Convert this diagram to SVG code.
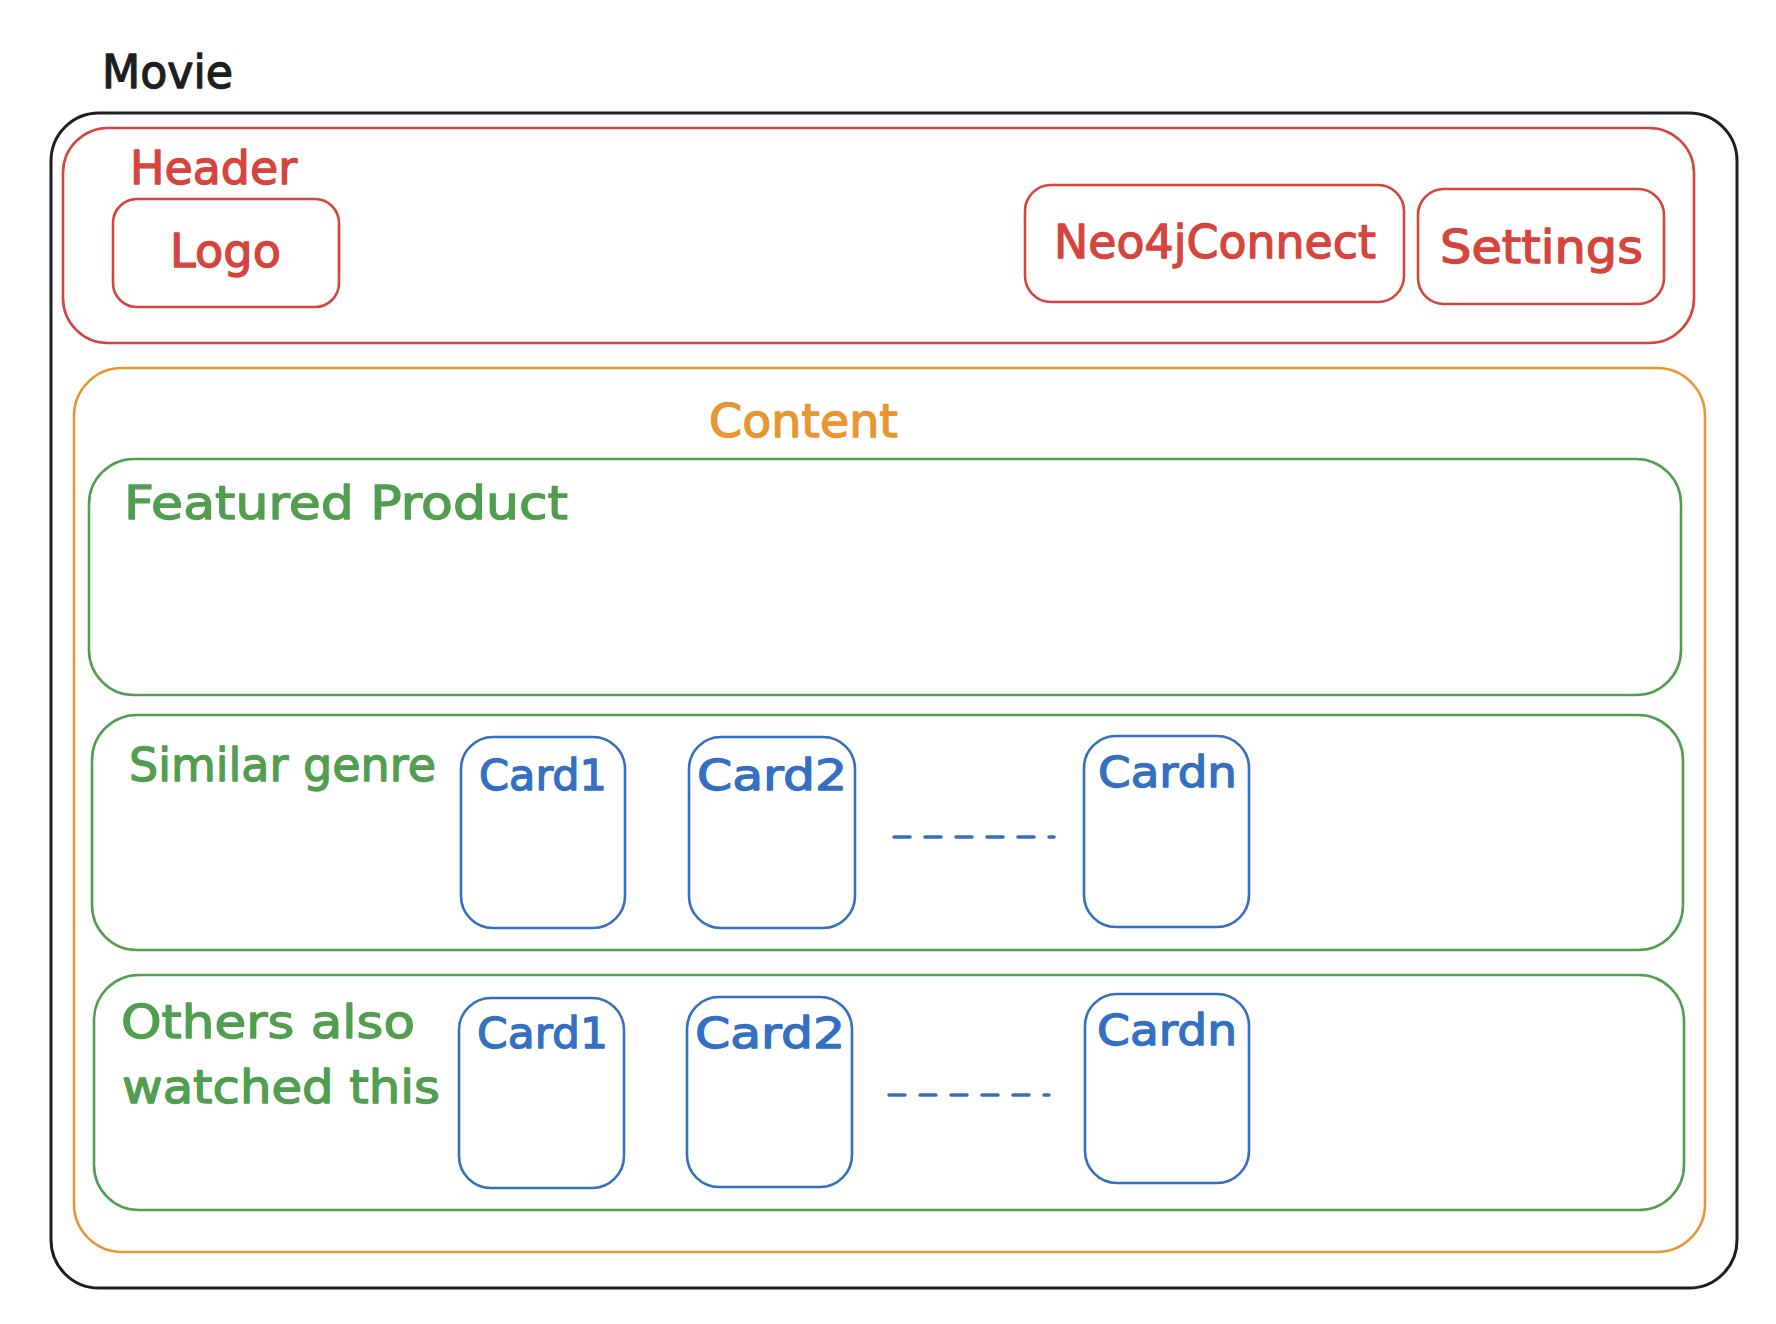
<svg xmlns="http://www.w3.org/2000/svg" width="1776" height="1324" viewBox="0 0 1776 1324">
<style>
  .box { fill: none; stroke-width: 2.6; stroke-linejoin: round; }
  .blk { stroke: #1e1e1e; stroke-width: 3; }
  .red { stroke: #d6453d; }
  .org { stroke: #e8962f; }
  .grn { stroke: #519e50; }
  .blu { stroke: #3470c1; }
  .t { font-family: "DejaVu Sans", "Liberation Sans", sans-serif; font-size: 46px; stroke-width: 1.3; stroke-linejoin: round; }
  .tc { font-family: "DejaVu Sans", "Liberation Sans", sans-serif; font-size: 42px; fill: #3470c1; stroke: #3470c1; stroke-width: 1.3; stroke-linejoin: round; }
  .dash { stroke: #3470c1; stroke-width: 3.5; stroke-linecap: round; stroke-dasharray: 16 15; fill: none; }
</style>
<rect width="1776" height="1324" fill="#ffffff"/>

<g id="movie">
  <text class="t" x="102" y="88" fill="#1e1e1e" stroke="#1e1e1e" textLength="131" lengthAdjust="spacingAndGlyphs">Movie</text>
  <rect class="box blk" x="51" y="113" width="1686" height="1175" rx="48"/>
</g>

<g id="header">
  <rect class="box red" x="63" y="128" width="1631" height="215" rx="45"/>
  <text class="t" x="130" y="184" fill="#d6453d" stroke="#d6453d" textLength="167" lengthAdjust="spacingAndGlyphs">Header</text>
</g>
<g id="logo">
  <rect class="box red" x="113" y="199" width="226" height="108" rx="24"/>
  <text class="t" x="170" y="267" fill="#d6453d" stroke="#d6453d" textLength="111" lengthAdjust="spacingAndGlyphs">Logo</text>
</g>
<g id="neo4jconnect">
  <rect class="box red" x="1025" y="185" width="379" height="117" rx="26"/>
  <text class="t" x="1054" y="258" fill="#d6453d" stroke="#d6453d" textLength="322" lengthAdjust="spacingAndGlyphs">Neo4jConnect</text>
</g>
<g id="settings">
  <rect class="box red" x="1418" y="189" width="246" height="115" rx="26"/>
  <text class="t" x="1440" y="263" fill="#d6453d" stroke="#d6453d" textLength="203" lengthAdjust="spacingAndGlyphs">Settings</text>
</g>

<g id="content">
  <rect class="box org" x="74" y="368" width="1631" height="884" rx="48"/>
  <text class="t" x="709" y="437" fill="#e8962f" stroke="#e8962f" textLength="189" lengthAdjust="spacingAndGlyphs">Content</text>
</g>

<g id="featured-product">
  <rect class="box grn" x="89" y="459" width="1592" height="236" rx="45"/>
  <text class="t" x="124" y="519" fill="#519e50" stroke="#519e50" textLength="444" lengthAdjust="spacingAndGlyphs">Featured Product</text>
</g>

<g id="similar-genre">
  <rect class="box grn" x="92" y="715" width="1591" height="235" rx="45"/>
  <text class="t" x="129" y="781" fill="#519e50" stroke="#519e50" textLength="307" lengthAdjust="spacingAndGlyphs">Similar genre</text>
</g>
<g id="sg-card1">
  <rect class="box blu" x="461" y="737" width="164" height="191" rx="32"/>
  <text class="tc" x="479" y="790" textLength="128" lengthAdjust="spacingAndGlyphs">Card1</text>
</g>
<g id="sg-card2">
  <rect class="box blu" x="689" y="737" width="166" height="191" rx="32"/>
  <text class="tc" x="697" y="790" textLength="150" lengthAdjust="spacingAndGlyphs">Card2</text>
</g>
<g id="sg-cardn">
  <rect class="box blu" x="1084" y="736" width="165" height="191" rx="32"/>
  <text class="tc" x="1098" y="787" textLength="139" lengthAdjust="spacingAndGlyphs">Cardn</text>
</g>

<g id="others-also-watched">
  <rect class="box grn" x="94" y="975" width="1590" height="235" rx="45"/>
  <text class="t" x="121" y="1038" fill="#519e50" stroke="#519e50" textLength="294" lengthAdjust="spacingAndGlyphs">Others also</text>
  <text class="t" x="122" y="1103" fill="#519e50" stroke="#519e50" textLength="318" lengthAdjust="spacingAndGlyphs">watched this</text>
</g>
<g id="ow-card1">
  <rect class="box blu" x="459" y="998" width="165" height="190" rx="32"/>
  <text class="tc" x="477" y="1048" textLength="131" lengthAdjust="spacingAndGlyphs">Card1</text>
</g>
<g id="ow-card2">
  <rect class="box blu" x="687" y="997" width="165" height="190" rx="32"/>
  <text class="tc" x="695" y="1048" textLength="150" lengthAdjust="spacingAndGlyphs">Card2</text>
</g>
<g id="ow-cardn">
  <rect class="box blu" x="1085" y="994" width="164" height="189" rx="32"/>
  <text class="tc" x="1097" y="1045" textLength="140" lengthAdjust="spacingAndGlyphs">Cardn</text>
</g>

<g id="connectors">
  <path class="dash" d="M894 837 L1054 837"/>
  <path class="dash" d="M889 1095 L1049 1095"/>
</g>
</svg>
